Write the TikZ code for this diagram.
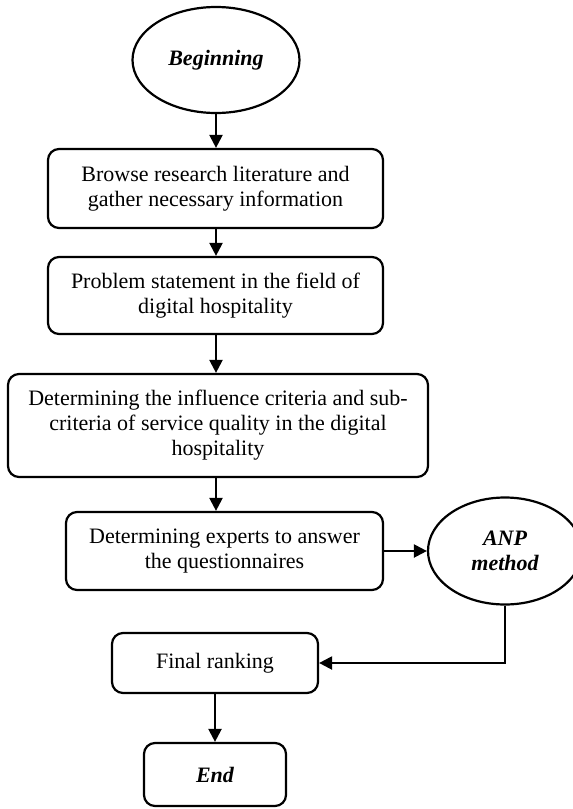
\documentclass[tikz,border=0pt]{standalone}
\usepackage{fontspec}
\setmainfont{Liberation Serif}
\usetikzlibrary{shapes.geometric,arrows.meta}

\begin{document}
\begin{tikzpicture}[x=1pt,y=-1pt,
  every node/.style={draw,line width=2.2pt,inner sep=0pt,align=center,
    font=\fontsize{22}{25}\selectfont},
  stage/.style={rectangle,rounded corners=11pt},
  term/.style={ellipse,font=\fontsize{22}{25}\selectfont\bfseries\itshape},
  flow/.style={line width=2.2pt,-{Triangle[length=13pt,width=13pt]}}]
\useasboundingbox (0,0) rectangle (573,809);
\node[term,minimum width=167pt,minimum height=106pt] (begin) at (216,60) {Beginning};
\node[stage,minimum width=335pt,minimum height=79pt] (browse) at (215.5,188.5)
  {Browse research literature and\\gather necessary information};
\node[stage,minimum width=335pt,minimum height=77pt] (problem) at (215.5,295.5)
  {Problem statement in the field of\\digital hospitality};
\node[stage,minimum width=420pt,minimum height=103pt] (criteria) at (218,425.5)
  {Determining the influence criteria and sub-\\criteria of service quality in the digital\\hospitality};
\node[stage,minimum width=317pt,minimum height=78pt] (experts) at (224.5,551)
  {Determining experts to answer\\the questionnaires};
\node[term,minimum width=154pt,minimum height=107pt] (anp) at (505,551) {ANP\\method};
\node[stage,minimum width=206pt,minimum height=60pt] (ranking) at (215,663) {Final ranking};
\node[stage,term,rectangle,minimum width=142pt,minimum height=63pt] (finish) at (215,774.5) {End};
\draw[flow] (begin.south) -- (begin.south |- browse.north);
\draw[flow] (begin.south |- browse.south) -- (begin.south |- problem.north);
\draw[flow] (begin.south |- problem.south) -- (begin.south |- criteria.north);
\draw[flow] (begin.south |- criteria.south) -- (begin.south |- experts.north);
\draw[flow] (experts.east) -- (experts.east -| anp.west);
\draw[flow] (anp.south) |- (ranking.east);
\draw[flow] (ranking.south) -- (finish.north);
\end{tikzpicture}
\end{document}
